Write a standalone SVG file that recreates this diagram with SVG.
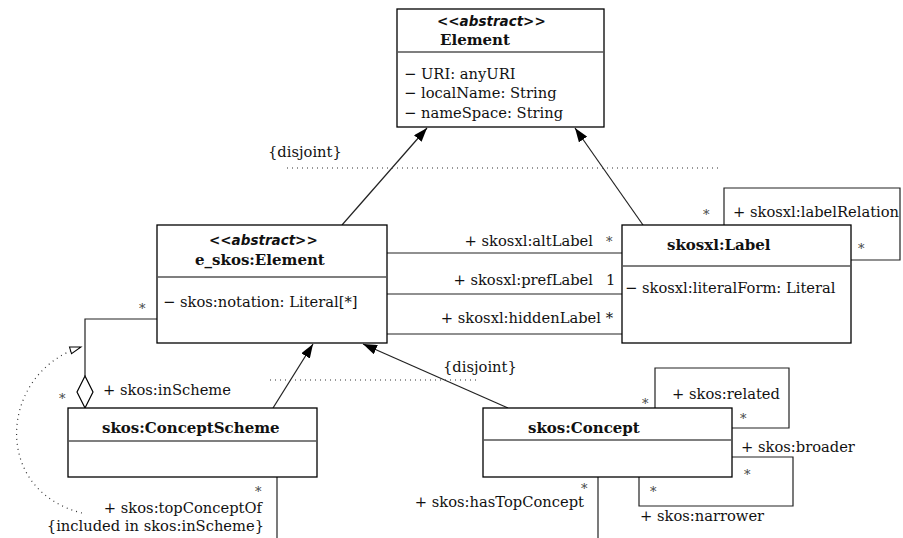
<svg xmlns="http://www.w3.org/2000/svg" width="903" height="538" viewBox="0 0 903 538">
<defs>
<style>
.box{fill:#fff;stroke:#000;stroke-width:1.3}
.dv{stroke:#555;stroke-width:1.3}
.t{font-family:"DejaVu Serif",serif;font-size:14.7px;fill:#111}
.b{font-weight:bold;font-size:15px}
.st{font-family:"DejaVu Sans",sans-serif;font-style:italic;font-weight:bold;font-size:13.5px;fill:#111}
.ln{stroke:#222;stroke-width:1.2;fill:none}
.dot{stroke:#333;stroke-width:1.2;stroke-dasharray:1 4;fill:none}
.m{font-family:"DejaVu Serif",serif;font-size:13px;fill:#444}
</style>
<marker id="gen" markerWidth="14" markerHeight="10" refX="14" refY="5" orient="auto" markerUnits="userSpaceOnUse"><path d="M0,0 L14,5 L0,10 z" fill="#000"/></marker>
<marker id="open" markerWidth="14" markerHeight="10" refX="12" refY="4.5" orient="auto" markerUnits="userSpaceOnUse"><path d="M1,1 L12,4.5 L1,8 z" fill="#fff" stroke="#000" stroke-width="1"/></marker>
</defs>
<rect width="903" height="538" fill="#fff"/>
<g id="connectors">
<line class="ln" x1="342" y1="225" x2="427" y2="128" marker-end="url(#gen)"/>
<line class="ln" x1="643" y1="225" x2="575" y2="128" marker-end="url(#gen)"/>
<line class="dot" x1="287" y1="168" x2="722" y2="168"/>
<text class="t" x="268" y="157">{disjoint}</text>
<line class="ln" x1="387" y1="253" x2="622" y2="253"/>
<line class="ln" x1="387" y1="294" x2="622" y2="294"/>
<line class="ln" x1="387" y1="334" x2="622" y2="334"/>
<text class="t" x="593" y="246" text-anchor="end">+ skosxl:altLabel</text>
<text class="m" x="606" y="246">*</text>
<text class="t" x="593" y="285" text-anchor="end">+ skosxl:prefLabel</text>
<text class="t" x="606" y="285">1</text>
<text class="t" x="613" y="323" text-anchor="end">+ skosxl:hiddenLabel *</text>
<polyline class="ln" points="724,225 724,188 900,188 900,260 851,260"/>
<text class="t" x="733" y="217">+ skosxl:labelRelation</text>
<text class="m" x="703" y="219">*</text>
<text class="m" x="858" y="253">*</text>
<line class="ln" x1="273" y1="408" x2="313" y2="344" marker-end="url(#gen)"/>
<line class="ln" x1="508" y1="408" x2="363" y2="344" marker-end="url(#gen)"/>
<line class="dot" x1="270" y1="380" x2="477" y2="380"/>
<text class="t" x="443" y="372">{disjoint}</text>
<polyline class="ln" points="157,319 85,319 85,376"/>
<path d="M85,376 L93,392 L85,408 L77,392 z" fill="#fff" stroke="#000" stroke-width="1.2"/>
<text class="m" x="139" y="313">*</text>
<text class="m" x="59" y="403">*</text>
<text class="t" x="103" y="395">+ skos:inScheme</text>
<path class="dot" d="M82,513 C-10,490 0,372 81,347" marker-end="url(#open)"/>
<line class="ln" x1="277" y1="477" x2="277" y2="538"/>
<text class="m" x="255" y="496">*</text>
<text class="t" x="262" y="513" text-anchor="end">+ skos:topConceptOf</text>
<text class="t" x="264" y="531" text-anchor="end">{included in skos:inScheme}</text>
<polyline class="ln" points="655,408 655,368 789,368 789,428 732,428"/>
<text class="t" x="672" y="399">+ skos:related</text>
<text class="m" x="642" y="408">*</text>
<text class="m" x="740" y="423">*</text>
<polyline class="ln" points="732,457 793,457 793,506 639,506 639,477"/>
<text class="t" x="741" y="452">+ skos:broader</text>
<text class="m" x="744" y="479">*</text>
<text class="m" x="650" y="496">*</text>
<text class="t" x="640" y="521">+ skos:narrower</text>
<line class="ln" x1="598" y1="477" x2="598" y2="538"/>
<text class="m" x="581" y="493">*</text>
<text class="t" x="584" y="507" text-anchor="end">+ skos:hasTopConcept</text>
</g>
<g id="Element">
<rect class="box" x="397" y="9" width="207" height="118"/>
<line class="dv" x1="397" y1="52" x2="604" y2="52"/>
<text class="st" x="437" y="26">&lt;&lt;abstract&gt;&gt;</text>
<text class="t b" x="440" y="45">Element</text>
<text class="t" x="404" y="79">− URI: anyURI</text>
<text class="t" x="404" y="98">− localName: String</text>
<text class="t" x="404" y="118">− nameSpace: String</text>
</g>
<g id="e_skos_Element">
<rect class="box" x="157" y="225" width="230" height="118"/>
<line class="dv" x1="157" y1="277" x2="387" y2="277"/>
<text class="st" x="209" y="245">&lt;&lt;abstract&gt;&gt;</text>
<text class="t b" x="195" y="265">e_skos:Element</text>
<text class="t" x="163" y="307">− skos:notation: Literal[*]</text>
</g>
<g id="skosxl_Label">
<rect class="box" x="622" y="225" width="229" height="118"/>
<line class="dv" x1="622" y1="266" x2="851" y2="266"/>
<text class="t b" x="667" y="250">skosxl:Label</text>
<text class="t" x="625" y="293">− skosxl:literalForm: Literal</text>
</g>
<g id="skos_ConceptScheme">
<rect class="box" x="68" y="408" width="249" height="69"/>
<line class="dv" x1="68" y1="441" x2="317" y2="441"/>
<text class="t b" x="102" y="433">skos:ConceptScheme</text>
</g>
<g id="skos_Concept">
<rect class="box" x="483" y="408" width="249" height="69"/>
<line class="dv" x1="483" y1="440" x2="732" y2="440"/>
<text class="t b" x="528" y="433">skos:Concept</text>
</g>
</svg>
